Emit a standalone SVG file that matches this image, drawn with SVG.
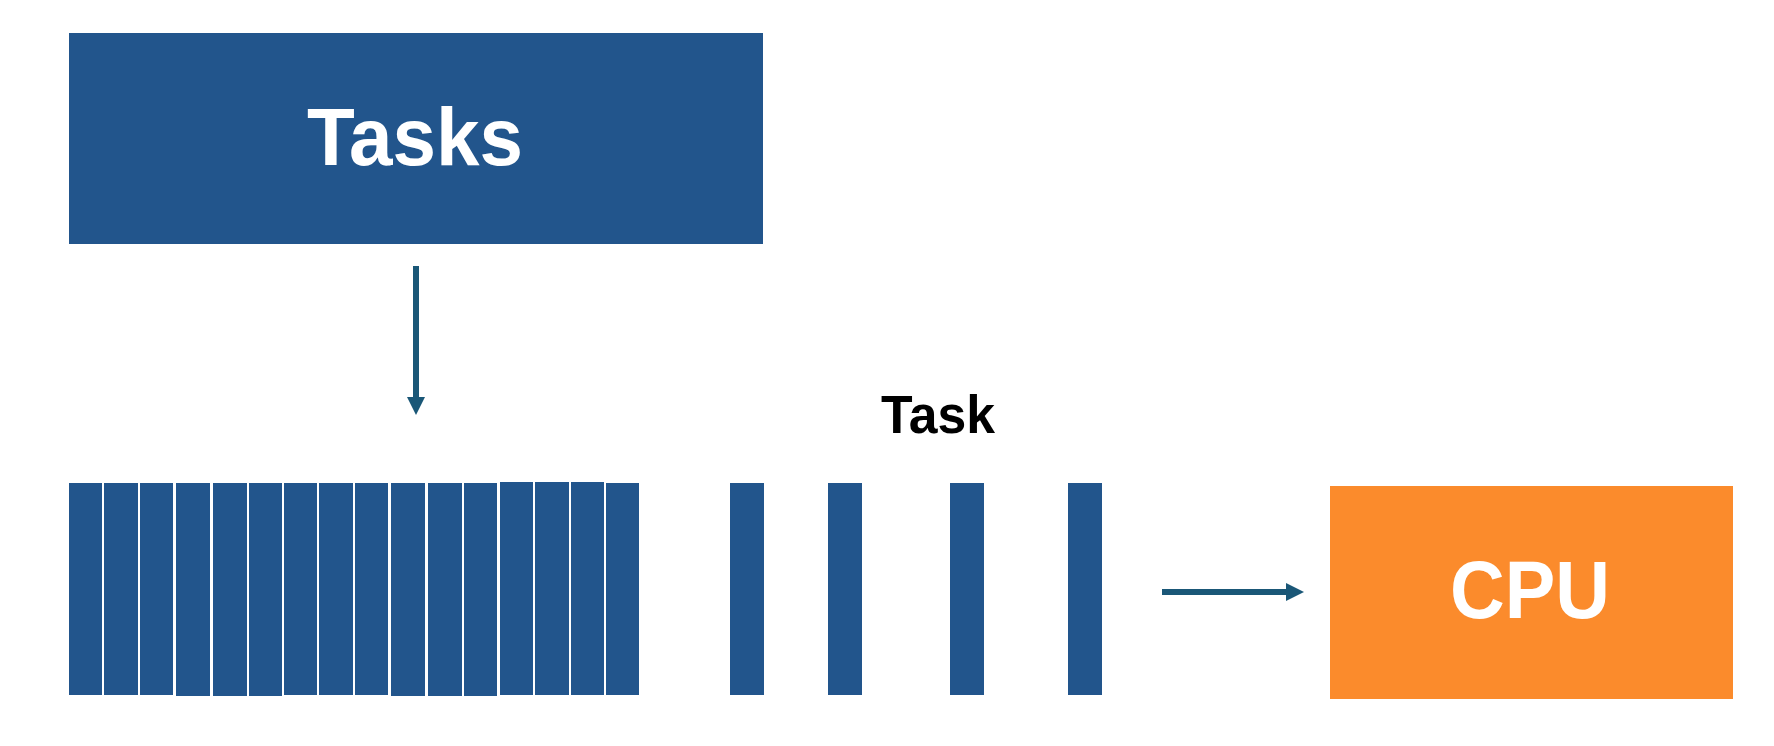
<svg xmlns="http://www.w3.org/2000/svg" width="1774" height="746" viewBox="0 0 1774 746">
<style>
.blue{fill:#22558c}
.bar{fill:#22558c}
.orange{fill:#fb8b2c}
.lbl{font-family:"Liberation Sans",Arial,sans-serif;font-weight:bold;text-anchor:middle}
.conn{stroke:#1a5777;stroke-width:6;fill:none}
</style>
<defs>
<marker id="ah" markerUnits="userSpaceOnUse" markerWidth="20" markerHeight="20" viewBox="0 0 20 20" refX="1" refY="10" orient="auto">
<path d="M0,1 L18,10 L0,19 Z" fill="#1a5777"/>
</marker>
</defs>
<rect width="1774" height="746" fill="#ffffff"/>
<g id="tasks">
<rect class="blue" x="69" y="33" width="694" height="211"/>
<text class="lbl" x="415" y="165" font-size="81" fill="#ffffff" textLength="216" lengthAdjust="spacingAndGlyphs">Tasks</text>
</g>
<g id="queue">
<rect class="bar" x="69" y="483" width="33" height="212"/>
<rect class="bar" x="104" y="483" width="34" height="212"/>
<rect class="bar" x="140" y="483" width="33" height="212"/>
<rect class="bar" x="176" y="483" width="34" height="213"/>
<rect class="bar" x="213" y="483" width="34" height="213"/>
<rect class="bar" x="249" y="483" width="33" height="213"/>
<rect class="bar" x="284" y="483" width="33" height="212"/>
<rect class="bar" x="319" y="483" width="34" height="212"/>
<rect class="bar" x="355" y="483" width="33" height="212"/>
<rect class="bar" x="391" y="483" width="34" height="213"/>
<rect class="bar" x="428" y="483" width="34" height="213"/>
<rect class="bar" x="464" y="483" width="33" height="213"/>
<rect class="bar" x="500" y="482" width="33" height="213"/>
<rect class="bar" x="535" y="482" width="34" height="213"/>
<rect class="bar" x="571" y="482" width="33" height="213"/>
<rect class="bar" x="606" y="483" width="33" height="212"/>
</g>
<g id="task-label">
<text class="lbl" x="938" y="433" font-size="53" fill="#000000" textLength="114" lengthAdjust="spacingAndGlyphs">Task</text>
</g>
<g id="task1"><rect class="bar" x="730" y="483" width="34" height="212"/></g>
<g id="task2"><rect class="bar" x="828" y="483" width="34" height="212"/></g>
<g id="task3"><rect class="bar" x="950" y="483" width="34" height="212"/></g>
<g id="task4"><rect class="bar" x="1068" y="483" width="34" height="212"/></g>
<g id="cpu">
<rect class="orange" x="1330" y="486" width="403" height="213"/>
<text class="lbl" x="1530" y="618" font-size="82" fill="#ffffff" textLength="160" lengthAdjust="spacingAndGlyphs">CPU</text>
</g>
<g id="connectors">
<line class="conn" x1="416" y1="266" x2="416" y2="398" marker-end="url(#ah)"/>
<line class="conn" x1="1162" y1="592" x2="1287" y2="592" marker-end="url(#ah)"/>
</g>
</svg>
